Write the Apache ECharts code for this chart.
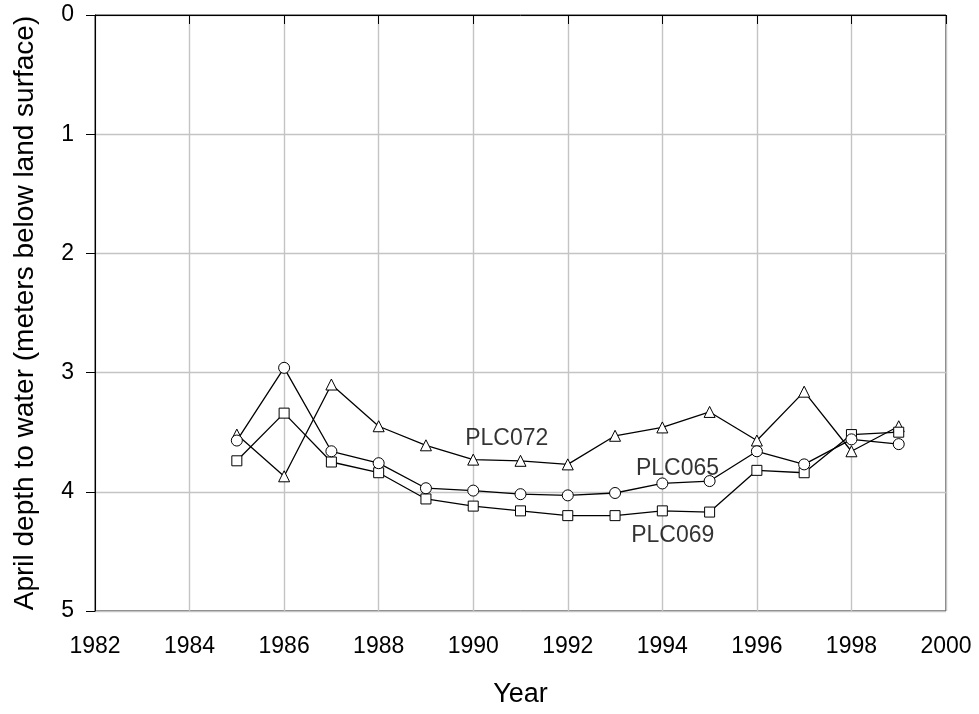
<!DOCTYPE html>
<html>
<head>
<meta charset="utf-8">
<script src="https://cdn.jsdelivr.net/npm/echarts@6/dist/echarts.min.js"></script>
<style>html,body{margin:0;padding:0;background:#fff}#c{width:979px;height:714px}</style>
</head>
<body>
<div id="c"></div>
<script>
var years = [1985,1986,1987,1988,1989,1990,1991,1992,1993,1994,1995,1996,1997,1998,1999];
var plc065 = [3.57,2.96,3.66,3.76,3.97,3.99,4.02,4.03,4.01,3.93,3.91,3.66,3.77,3.56,3.60];
var plc069 = [3.74,3.34,3.75,3.84,4.06,4.12,4.16,4.20,4.20,4.16,4.17,3.82,3.84,3.52,3.50];
var plc072 = [3.52,3.87,3.10,3.45,3.61,3.73,3.74,3.77,3.53,3.46,3.33,3.57,3.16,3.66,3.45];
var labelNames = ['PLC072','PLC065','PLC069'];
var labelX = [1990.71,1994.32,1994.22];
var labelY = [3.557,3.81,4.37];
var xTicks = [1982,1984,1986,1988,1990,1992,1994,1996,1998,2000];
var yTicks = [0,1,2,3,4,5];

var FONT = 'Liberation Sans, Arial, sans-serif';
function pairs(v){ return years.map(function(y,i){ return [y, v[i]]; }); }
function lineSeries(name, vals, symbol, size){
  return {
    name: name, type: 'line', data: pairs(vals), symbol: symbol, symbolSize: size,
    showAllSymbol: true,
    lineStyle: {color: '#000', width: 1.3},
    itemStyle: {color: '#fff', borderColor: '#000', borderWidth: 1},
    emphasis: {disabled: true}, z: 3
  };
}
var chart = echarts.init(document.getElementById('c'), null, {renderer: 'canvas'});
chart.setOption({
  animation: false,
  backgroundColor: '#fff',
  grid: {left: 95, right: 33, top: 15, bottom: 103, show: true, borderColor: '#000', borderWidth: 1},
  xAxis: {
    type: 'value', min: xTicks[0], max: xTicks[xTicks.length-1], interval: 2,
    name: 'Year', nameLocation: 'middle', nameGap: 70,
    nameTextStyle: {fontFamily: FONT, fontSize: 27, color: '#000'},
    axisLine: {lineStyle: {color: '#000', width: 1}},
    axisTick: {show: true, length: 9, lineStyle: {color: '#000'}},
    axisLabel: {fontFamily: FONT, fontSize: 23, color: '#000', margin: 24, formatter: function(v){ return String(v); }},
    splitLine: {show: true, lineStyle: {color: '#c4c4c4', width: 1.4}}
  },
  yAxis: {
    type: 'value', inverse: true, min: yTicks[0], max: yTicks[yTicks.length-1], interval: 1,
    name: 'April depth to water (meters below land surface)', nameLocation: 'middle', nameGap: 56,
    nameTextStyle: {fontFamily: FONT, fontSize: 28, color: '#000'},
    axisLine: {show: true, lineStyle: {color: '#000', width: 1}},
    axisTick: {show: true, length: 9, lineStyle: {color: '#000'}},
    axisLabel: {fontFamily: FONT, fontSize: 23, color: '#000', margin: 21},
    splitLine: {show: true, lineStyle: {color: '#c4c4c4', width: 1.4}}
  },
  series: [
    lineSeries('PLC072', plc072, 'triangle', 11),
    lineSeries('PLC069', plc069, 'rect', 10),
    lineSeries('PLC065', plc065, 'circle', 11),
    {
      type: 'scatter', symbolSize: 0, z: 5, silent: true,
      data: labelNames.map(function(n,i){ return {value: [labelX[i], labelY[i]], name: n}; }),
      label: {show: true, position: 'inside', formatter: '{b}', fontFamily: FONT, fontSize: 23, color: '#000'}
    }
  ]
});
</script>
</body>
</html>
